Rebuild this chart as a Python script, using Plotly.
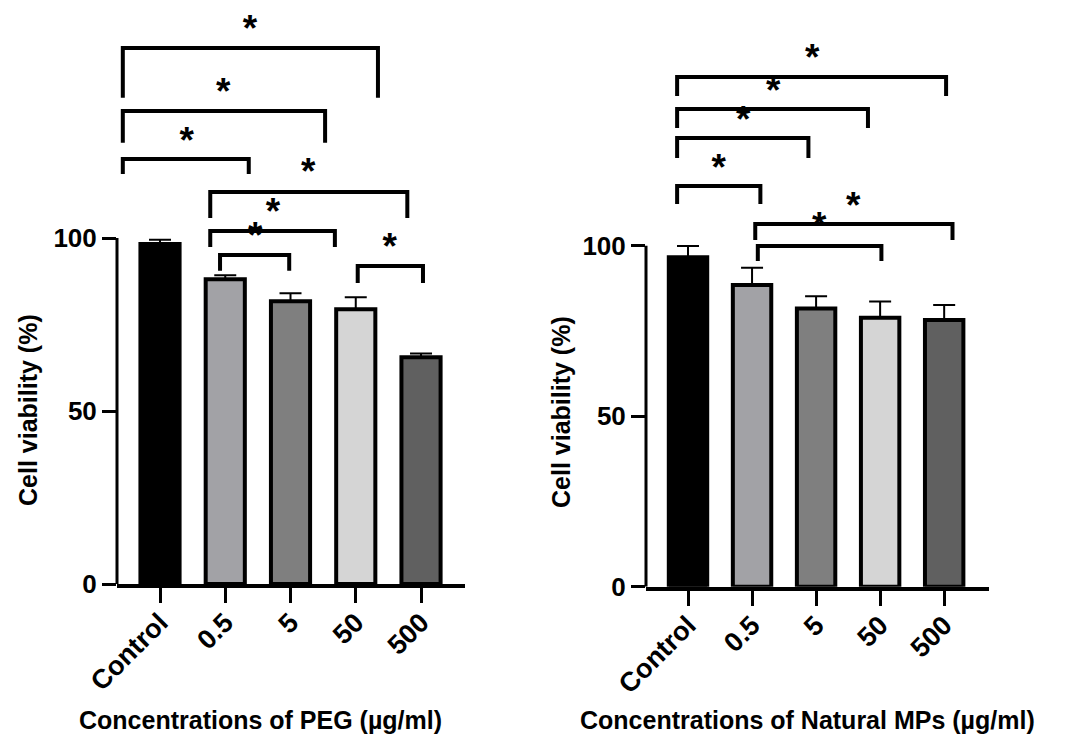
import plotly.graph_objects as go

# ---------------- data ----------------
categories = ["Control", "0.5", "5", "50", "500"]
peg_mean = [98.3, 88.1, 81.7, 79.4, 65.5]
peg_err = [1.2, 1.1, 2.3, 3.5, 1.1]
mps_mean = [96.6, 88.5, 81.6, 78.9, 78.2]
mps_err = [3.3, 5.0, 3.6, 4.7, 4.4]
bar_colors = ["#000000", "#a2a2a6", "#7f7f7f", "#d5d5d5", "#606060"]
y_ticks = [0, 50, 100]

# significance brackets: (x_left, x_right, y_top, y_leg_bottom, star_x, star_y)
peg_brackets = [
    (-0.57, 3.34, 154.9, 140.5, 1.38, 161.6),
    (-0.57, 2.53, 136.7, 127.5, 0.97, 143.4),
    (-0.57, 1.36, 122.8, 118.5, 0.41, 129.2),
    (0.77, 3.79, 113.3, 105.8, 2.27, 120.2),
    (0.77, 2.68, 102.0, 97.4, 1.73, 108.7),
    (0.92, 1.98, 95.1, 90.5, 1.46, 101.7),
    (3.03, 4.03, 91.9, 87.0, 3.52, 98.6),
]
mps_brackets = [
    (-0.17, 4.03, 149.5, 143.9, 1.94, 156.2),
    (-0.17, 2.81, 140.1, 134.5, 1.33, 146.6),
    (-0.17, 1.88, 131.6, 125.7, 0.86, 138.0),
    (-0.17, 1.13, 117.5, 112.2, 0.48, 124.0),
    (1.05, 4.13, 106.4, 101.7, 2.58, 112.8),
    (1.09, 3.02, 99.9, 95.5, 2.05, 106.9),
]

FONT = "Liberation Sans, Arial, sans-serif"
PAGE_W, PAGE_H = 1077, 734
OFF = 8  # default page body margin
W, H = PAGE_W - OFF, PAGE_H - OFF
YMAX = 165


def fx(px):
    return (px - OFF) / W


def fy(py):
    return (H - (py - OFF)) / H


fig = go.Figure()
x_idx = list(range(len(categories)))


def add_panel(means, errs, brackets, xa, ya):
    fig.add_trace(go.Bar(
        x=x_idx, y=means, width=0.6,
        marker=dict(color=bar_colors, line=dict(color="black", width=4)),
        error_y=dict(type="data", symmetric=False, array=errs,
                     arrayminus=[0] * len(errs), color="black",
                     thickness=2, width=11),
        xaxis=xa, yaxis=ya, showlegend=False, hoverinfo="skip",
    ))
    for (x0, x1, yt, yb, sx, sy) in brackets:
        fig.add_trace(go.Scatter(
            x=[x0, x0, x1, x1], y=[yb, yt, yt, yb], mode="lines",
            line=dict(color="black", width=4),
            xaxis=xa, yaxis=ya, showlegend=False, hoverinfo="skip",
        ))
        fig.add_trace(go.Scatter(
            x=[sx], y=[sy - 2.0], mode="text", text=["*"],
            textposition="middle center",
            textfont=dict(family=FONT, size=37, color="black", weight="bold"),
            xaxis=xa, yaxis=ya, showlegend=False, hoverinfo="skip",
            cliponaxis=False,
        ))


add_panel(peg_mean, peg_err, peg_brackets, "x", "y")
add_panel(mps_mean, mps_err, mps_brackets, "x2", "y2")

xcommon = dict(
    tickmode="array", tickvals=x_idx, ticktext=categories, tickangle=-45,
    showline=True, linecolor="black", linewidth=4, ticks="outside",
    ticklen=15, tickwidth=3, tickcolor="black", showgrid=False,
    zeroline=False, automargin=False, ticklabelstandoff=-7,
    tickfont=dict(family=FONT, size=27, color="black", weight="bold"),
)
ycommon = dict(
    tickmode="array", tickvals=y_ticks, range=[0, YMAX], showline=False,
    ticks="outside", ticklen=14, tickwidth=3, tickcolor="black",
    showgrid=False, zeroline=False, automargin=False,
    tickfont=dict(family=FONT, size=26, color="black", weight="bold"),
)

fig.update_layout(
    template="none",
    width=W, height=H, margin=dict(l=0, r=0, t=0, b=0, pad=0),
    plot_bgcolor="white", paper_bgcolor="white", showlegend=False,
    xaxis=dict(domain=[fx(117), fx(465)], range=[-0.659, 4.674],
               anchor="y", **xcommon),
    yaxis=dict(domain=[fy(584), fy(584 - YMAX * 3.46)], anchor="x",
               **ycommon),
    xaxis2=dict(domain=[fx(646), fx(989)], range=[-0.656, 4.70],
                anchor="y2", **xcommon),
    yaxis2=dict(domain=[fy(586.7), fy(586.7 - YMAX * 3.41)], anchor="x2",
                **ycommon),
)

# y axis lines only spanning the tick range
for xr, yr in (("x domain", "y"), ("x2 domain", "y2")):
    fig.add_shape(type="line", xref=xr, yref=yr, x0=0, x1=0,
                  y0=min(y_ticks), y1=max(y_ticks),
                  line=dict(color="black", width=3))

titles = [
    ("Concentrations of PEG (µg/ml)", 260, 720, 0),
    ("Concentrations of Natural MPs (µg/ml)", 807, 720, 0),
    ("Cell viability (%)", 28, 410, -90),
    ("Cell viability (%)", 561, 412, -90),
]
for txt, px, py, ang in titles:
    fig.add_annotation(
        text=txt, xref="paper", yref="paper", x=fx(px), y=fy(py),
        xanchor="center", yanchor="middle", showarrow=False, textangle=ang,
        font=dict(family=FONT, size=25, color="black", weight="bold"),
    )

fig.write_html("out.html")
